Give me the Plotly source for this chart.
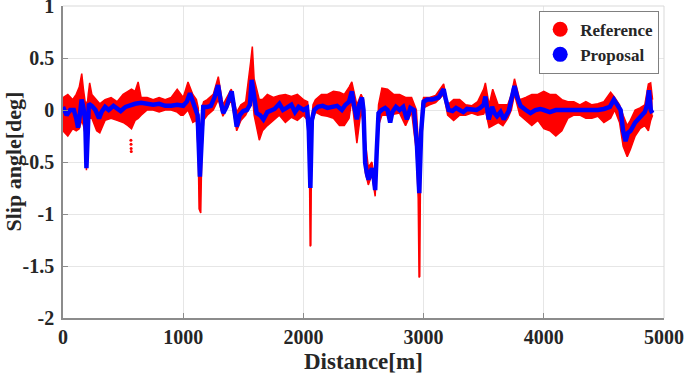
import plotly.graph_objects as go

# Proposal (blue) curve: distance [m], slip angle [deg]
blue_x = [0, 30, 60, 90, 110, 125, 140, 155, 170, 185, 195, 205, 215, 240, 270, 300, 320, 350, 380, 420,
          450, 480, 520, 560, 600, 650, 700, 750, 800, 850, 900, 950, 1000, 1030, 1056, 1080, 1100, 1120,
          1139, 1155, 1167, 1200, 1230, 1260, 1290, 1310, 1333, 1360, 1380, 1403, 1420, 1445, 1470, 1500,
          1530, 1555, 1570, 1590, 1611, 1640, 1667, 1700, 1730, 1760, 1800, 1830, 1860, 1900, 1930, 1960,
          2000, 2030, 2045, 2058, 2070, 2090, 2120, 2160, 2200, 2240, 2280, 2320, 2350, 2380, 2403, 2420,
          2445, 2465, 2487, 2500, 2514, 2530, 2542, 2556, 2570, 2585, 2597, 2610, 2625, 2650, 2680, 2700,
          2722, 2740, 2770, 2800, 2830, 2861, 2890, 2920, 2944, 2964, 2980, 3000, 3030, 3070, 3100, 3125,
          3150, 3167, 3185, 3208, 3240, 3270, 3300, 3330, 3360, 3400, 3440, 3470, 3500, 3514, 3530, 3542,
          3570, 3590, 3611, 3640, 3667, 3690, 3708, 3730, 3756, 3780, 3806, 3850, 3889, 3930, 3970, 4000,
          4050, 4100, 4150, 4200, 4250, 4300, 4350, 4400, 4450, 4500, 4550, 4583, 4610, 4639, 4660, 4680,
          4700, 4722, 4760, 4806, 4840, 4860, 4875, 4890, 4903]
blue_y = [0.03, -0.05, 0.0, 0.0, -0.08, -0.17, -0.05, 0.1, 0.02, -0.1, -0.56, -0.1, 0.06, 0.04, 0.0, -0.08,
          -0.02, 0.03, 0.0, 0.04, 0.02, -0.01, 0.03, 0.05, 0.06, 0.07, 0.06, 0.05, 0.06, 0.04, 0.04, 0.05,
          0.04, 0.08, 0.16, 0.08, 0.03, -0.05, -0.64, -0.1, 0.03, 0.03, 0.04, 0.12, 0.24, 0.1, -0.03, 0.03,
          0.1, 0.18, 0.05, -0.16, -0.05, -0.01, 0.0, 0.05, 0.29, 0.1, -0.03, -0.05, -0.09, -0.02, 0.0, 0.01,
          0.06, 0.0, 0.02, 0.05, -0.02, 0.03, 0.0, 0.02, -0.2, -0.75, -0.1, 0.0, 0.03, 0.04, 0.02, 0.03,
          0.04, 0.0, 0.05, 0.08, 0.18, 0.05, -0.09, 0.05, 0.12, 0.0, -0.51, -0.62, -0.67, -0.6, -0.56, -0.65,
          -0.77, -0.4, -0.03, 0.0, 0.02, 0.0, -0.12, -0.02, 0.03, 0.0, 0.03, -0.09, 0.02, 0.0, -0.32, -0.8,
          -0.2, 0.08, 0.1, 0.1, 0.11, 0.12, 0.17, 0.2, 0.1, 0.0, -0.01, 0.02, 0.0, -0.02, 0.01, 0.0, 0.0,
          0.02, 0.05, 0.13, 0.0, -0.09, 0.03, -0.03, -0.06, -0.02, -0.09, -0.04, -0.01, 0.1, 0.23, 0.12,
          0.04, 0.0, -0.03, 0.0, 0.01, 0.0, -0.02, 0.0, 0.0, -0.01, 0.0, 0.0, -0.01, 0.0, 0.0, 0.01, 0.03,
          0.1, 0.05, 0.0, -0.2, -0.3, -0.22, -0.2, -0.12, -0.06, -0.02, 0.05, 0.19, 0.0, -0.03]

# Reference (red) scatter: upper / lower envelope of the dense point cloud
red_x = [0, 40, 80, 110, 135, 156, 170, 188, 195, 202, 210, 222, 240, 280, 306, 350, 400, 450, 500, 540,
         570, 600, 625, 650, 700, 750, 800, 850, 900, 950, 980, 1000, 1040, 1080, 1110, 1125, 1132, 1146,
         1155, 1170, 1200, 1250, 1292, 1330, 1400, 1445, 1480, 1520, 1560, 1575, 1590, 1633, 1660, 1700,
         1750, 1800, 1850, 1900, 1950, 2000, 2035, 2050, 2056, 2062, 2068, 2080, 2100, 2150, 2200, 2250,
         2300, 2340, 2380, 2403, 2445, 2480, 2500, 2515, 2540, 2570, 2597, 2612, 2625, 2653, 2700, 2750,
         2800, 2850, 2900, 2940, 2955, 2962, 2968, 2975, 2985, 3000, 3050, 3100, 3167, 3200, 3250, 3300,
         3350, 3400, 3450, 3500, 3514, 3545, 3575, 3620, 3660, 3700, 3730, 3756, 3800, 3850, 3900, 3950,
         4000, 4050, 4100, 4150, 4200, 4250, 4300, 4350, 4400, 4450, 4500, 4556, 4590, 4630, 4660, 4694,
         4720, 4760, 4800, 4840, 4870, 4889, 4905]
red_hi = [0.12, 0.15, 0.1, 0.15, 0.22, 0.35, 0.2, 0.05, 0.08, 0.05, 0.15, 0.26, 0.15, 0.1, 0.06, 0.1, 0.12,
          0.08, 0.15, 0.18, 0.2, 0.18, 0.27, 0.12, 0.12, 0.1, 0.12, 0.1, 0.12, 0.2, 0.15, 0.12, 0.27, 0.15,
          0.1, 0.02, -0.3, -0.3, 0.02, 0.08, 0.1, 0.15, 0.32, 0.05, 0.2, -0.02, 0.05, 0.08, 0.45, 0.61, 0.3,
          0.1, 0.1, 0.15, 0.12, 0.14, 0.15, 0.13, 0.15, 0.1, 0.08, -0.1, -0.6, -0.6, -0.1, 0.05, 0.1, 0.15,
          0.15, 0.18, 0.17, 0.15, 0.22, 0.27, 0.05, 0.15, 0.1, -0.3, -0.55, -0.5, -0.7, -0.3, 0.05, 0.21,
          0.2, 0.15, 0.15, 0.12, 0.12, 0.0, -0.3, -0.6, -0.6, -0.3, 0.05, 0.12, 0.12, 0.14, 0.25, 0.05, 0.1,
          0.1, 0.05, 0.04, 0.08, 0.2, 0.26, 0.05, 0.2, 0.05, 0.05, 0.05, 0.15, 0.3, 0.1, 0.12, 0.15, 0.15,
          0.18, 0.15, 0.15, 0.1, 0.08, 0.08, 0.05, 0.08, 0.05, 0.06, 0.08, 0.17, 0.12, 0.05, -0.05, -0.15,
          -0.1, 0.0, 0.02, 0.05, 0.25, 0.26, 0.1]
red_lo = [-0.2, -0.25, -0.18, -0.2, -0.18, -0.1, -0.15, -0.25, -0.58, -0.3, -0.1, -0.08, -0.08, -0.2, -0.22,
          -0.1, -0.08, -0.1, -0.12, -0.15, -0.18, -0.1, -0.08, -0.05, 0.0, 0.0, -0.02, 0.0, 0.0, -0.02,
          -0.05, -0.05, 0.0, -0.12, -0.1, -0.4, -0.95, -0.99, -0.4, -0.1, -0.05, 0.0, 0.1, -0.06, 0.1, -0.2,
          -0.1, -0.05, 0.05, 0.15, -0.05, -0.29, -0.2, -0.15, -0.1, -0.05, -0.12, -0.07, -0.1, -0.05, -0.1,
          -0.5, -1.31, -1.3, -0.3, -0.1, -0.02, -0.05, -0.06, -0.08, -0.15, -0.15, -0.08, 0.1, -0.32, 0.0,
          -0.15, -0.6, -0.72, -0.62, -0.83, -0.5, -0.15, -0.05, -0.05, -0.04, -0.03, -0.15, -0.02, -0.4,
          -0.85, -1.61, -1.6, -0.5, -0.25, 0.02, 0.05, 0.07, 0.15, -0.05, -0.1, -0.05, -0.05, -0.03, -0.05,
          -0.04, 0.0, -0.17, -0.15, -0.12, -0.15, -0.08, 0.0, 0.15, -0.05, -0.1, -0.15, -0.1, -0.18, -0.2,
          -0.25, -0.2, -0.08, -0.05, -0.05, -0.08, -0.08, -0.06, -0.12, -0.08, 0.0, -0.12, -0.35, -0.45,
          -0.38, -0.25, -0.18, -0.15, -0.2, -0.1, -0.05]

# isolated reference outliers
out_x = [565, 566, 567, 568]
out_y = [-0.29, -0.33, -0.37, -0.4]

x_ticks = [0, 1000, 2000, 3000, 4000, 5000]
x_tick_text = ["0", "1000", "2000", "3000", "4000", "5000"]
y_ticks = [1, 0.5, 0, -0.5, -1, -1.5, -2]
y_tick_text = ["1", "0.5", "0", "-0.5", "-1", "-1.5", "-2"]

RED = "#ff0000"
BLUE = "#0000ff"
FONT = dict(family="Liberation Serif, Times New Roman, serif", color="#262626", weight="bold")

fig = go.Figure()
fig.add_trace(go.Scatter(x=red_x, y=red_lo, mode="lines", line=dict(color=RED, width=1.5),
                         showlegend=False, hoverinfo="skip"))
fig.add_trace(go.Scatter(x=red_x, y=red_hi, mode="lines", line=dict(color=RED, width=1.5),
                         fill="tonexty", fillcolor=RED, showlegend=False, hoverinfo="skip"))
fig.add_trace(go.Scatter(x=out_x, y=out_y, mode="markers", marker=dict(color=RED, size=3),
                         showlegend=False))
fig.add_trace(go.Scatter(x=blue_x, y=blue_y, mode="lines", line=dict(color=BLUE, width=4.5),
                         showlegend=False))
# legend entries
fig.add_trace(go.Scatter(x=[None], y=[None], mode="markers", name="Reference",
                         marker=dict(color=RED, size=15)))
fig.add_trace(go.Scatter(x=[None], y=[None], mode="markers", name="Proposal",
                         marker=dict(color=BLUE, size=15)))

axis_common = dict(showgrid=True, gridcolor="#e6e6e6", gridwidth=1, zeroline=False,
                   showline=True, linecolor="#8c8c8c", linewidth=1.5, ticks="inside",
                   ticklen=5, tickcolor="#8c8c8c", mirror=False, automargin=False,
                   ticklabeloverflow="allow")

fig.update_layout(
    width=685, height=374,
    margin=dict(l=63, r=21, t=6, b=56),
    plot_bgcolor="white", paper_bgcolor="white",
    xaxis=dict(range=[0, 5000], tickvals=x_ticks, ticktext=x_tick_text, ticklabelstandoff=0,
               tickfont=dict(size=20, **FONT), **axis_common),
    yaxis=dict(range=[-2, 1], tickvals=y_ticks, ticktext=y_tick_text, ticklabelstandoff=3,
               tickfont=dict(size=20, **FONT), **axis_common),
    legend=dict(x=0.992, y=0.985, xanchor="right", yanchor="top", bgcolor="white",
                bordercolor="#808080", borderwidth=1, font=dict(size=17, **FONT),
                traceorder="normal", itemwidth=30, tracegroupgap=0),
    annotations=[
        dict(text="Distance[m]", xref="paper", yref="paper", x=0.5, y=-0.141,
             xanchor="center", yanchor="middle", showarrow=False, font=dict(size=23, **FONT)),
        dict(text="Slip angle[deg]", xref="paper", yref="paper", x=-0.084, y=0.5,
             xanchor="center", yanchor="middle", textangle=-90, showarrow=False,
             font=dict(size=22, **FONT)),
    ],
    shapes=[
        dict(type="line", xref="paper", yref="paper", x0=0, x1=1, y0=1, y1=1,
             line=dict(color="#d9d9d9", width=1)),
        dict(type="line", xref="paper", yref="paper", x0=1, x1=1, y0=0, y1=1,
             line=dict(color="#d9d9d9", width=1)),
    ],
)

fig.write_html("out.html", config={"displayModeBar": False},
               post_script="document.body.style.margin='0';")
